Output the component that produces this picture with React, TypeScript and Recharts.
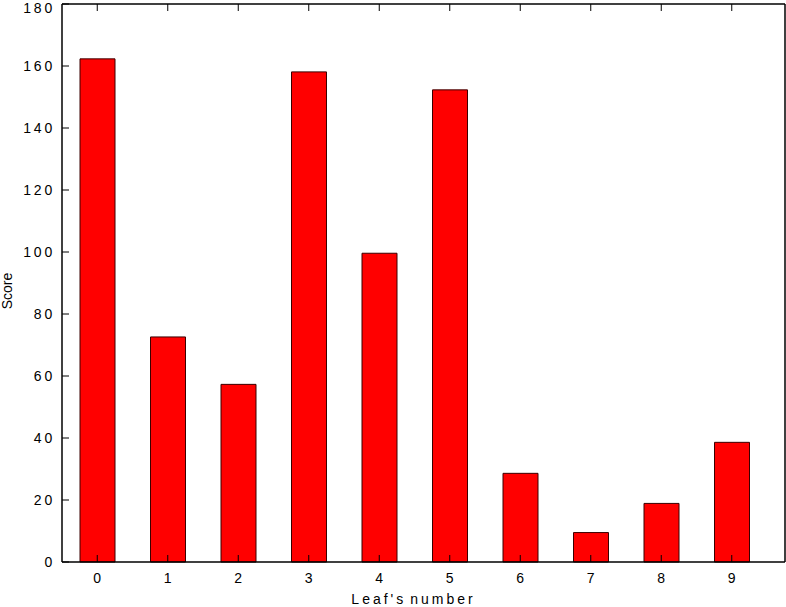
import React from 'react';
import { BarChart, Bar, XAxis, YAxis } from 'recharts';

// values
const leaves = ['0', '1', '2', '3', '4', '5', '6', '7', '8', '9'];
const scores = [162.3, 72.6, 57.3, 158.1, 99.6, 152.3, 28.6, 9.5, 18.9, 38.6];
const yTicks = [0, 20, 40, 60, 80, 100, 120, 140, 160, 180];

const data = leaves.map((leaf, i) => ({ leaf, score: scores[i] }));

const FONT = '"Liberation Sans", Arial, Helvetica, sans-serif';
const TICK_LEN = 7;

const BottomTick = ({ x, y, payload }: any) => (
  <g>
    <line x1={x} x2={x} y1={y} y2={y - TICK_LEN} stroke="#000" strokeWidth={1} />
    <text x={x} y={y + 21} textAnchor="middle" fontFamily={FONT} fontSize={14} fill="#000">
      {payload.value}
    </text>
  </g>
);

const TopTick = ({ x, y }: any) => (
  <line x1={x} x2={x} y1={y} y2={y + TICK_LEN} stroke="#000" strokeWidth={1} />
);

const LeftTick = ({ x, y, payload }: any) => {
  // keep the topmost label inside the picture
  const ty = y < 8 ? 8 : y;
  return (
    <g>
      <line x1={x} x2={x + TICK_LEN} y1={y} y2={y} stroke="#000" strokeWidth={1} />
      <text
        x={x - 7}
        y={ty}
        textAnchor="end"
        dominantBaseline="central"
        fontFamily={FONT}
        fontSize={14}
        letterSpacing={2.8}
        fill="#000"
      >
        {payload.value}
      </text>
    </g>
  );
};

const RightTick = ({ x, y }: any) => (
  <line x1={x - TICK_LEN} x2={x} y1={y} y2={y} stroke="#000" strokeWidth={1} />
);

const XLabel = ({ viewBox }: any) => (
  <text
    x={viewBox.x + viewBox.width / 2 - 10}
    y={viewBox.y + 42}
    textAnchor="middle"
    fontFamily={FONT}
    fontSize={14}
    letterSpacing={3}
    wordSpacing={-3}
    fill="#000"
  >
    Leaf's number
  </text>
);

const YLabel = ({ viewBox }: any) => {
  const cx = 7;
  const cy = viewBox.y + viewBox.height / 2 + 8;
  return (
    <text
      x={cx}
      y={cy}
      transform={`rotate(-90 ${cx} ${cy})`}
      textAnchor="middle"
      dominantBaseline="central"
      fontFamily={FONT}
      fontSize={14}
      fill="#000"
    >
      Score
    </text>
  );
};

export default function App() {
  return (
    <div style={{ position: 'absolute', left: 0, top: 0, background: '#fff' }}>
      <BarChart
        width={786}
        height={607}
        data={data}
        margin={{ top: 3, right: 0, bottom: 0, left: 0 }}
        barCategoryGap={0}
      >
        <XAxis
          dataKey="leaf"
          xAxisId="bottom"
          orientation="bottom"
          height={45}
          interval={0}
          padding={{ left: 0, right: 18 }}
          tickSize={0}
          tickMargin={0}
          tickLine={false}
          axisLine={{ stroke: '#000', strokeWidth: 1.5 }}
          tick={<BottomTick />}
          label={<XLabel />}
        />
        <XAxis
          dataKey="leaf"
          xAxisId="top"
          orientation="top"
          height={1}
          interval={0}
          padding={{ left: 0, right: 18 }}
          tickSize={0}
          tickMargin={0}
          tickLine={false}
          axisLine={{ stroke: '#000', strokeWidth: 1.5 }}
          tick={<TopTick />}
        />
        <YAxis
          yAxisId="left"
          orientation="left"
          width={62}
          domain={[0, 180]}
          ticks={yTicks}
          interval={0}
          tickSize={0}
          tickMargin={0}
          tickLine={false}
          axisLine={{ stroke: '#000', strokeWidth: 1.5 }}
          tick={<LeftTick />}
          label={<YLabel />}
        />
        <YAxis
          yAxisId="right"
          orientation="right"
          width={1}
          domain={[0, 180]}
          ticks={yTicks}
          interval={0}
          tickSize={0}
          tickMargin={0}
          tickLine={false}
          axisLine={{ stroke: '#000', strokeWidth: 1.5 }}
          tick={<RightTick />}
        />
        <Bar
          dataKey="score"
          xAxisId="bottom"
          yAxisId="left"
          barSize={35}
          fill="#ff0000"
          stroke="#3a0000"
          strokeWidth={1}
          isAnimationActive={false}
        />
      </BarChart>
    </div>
  );
}
